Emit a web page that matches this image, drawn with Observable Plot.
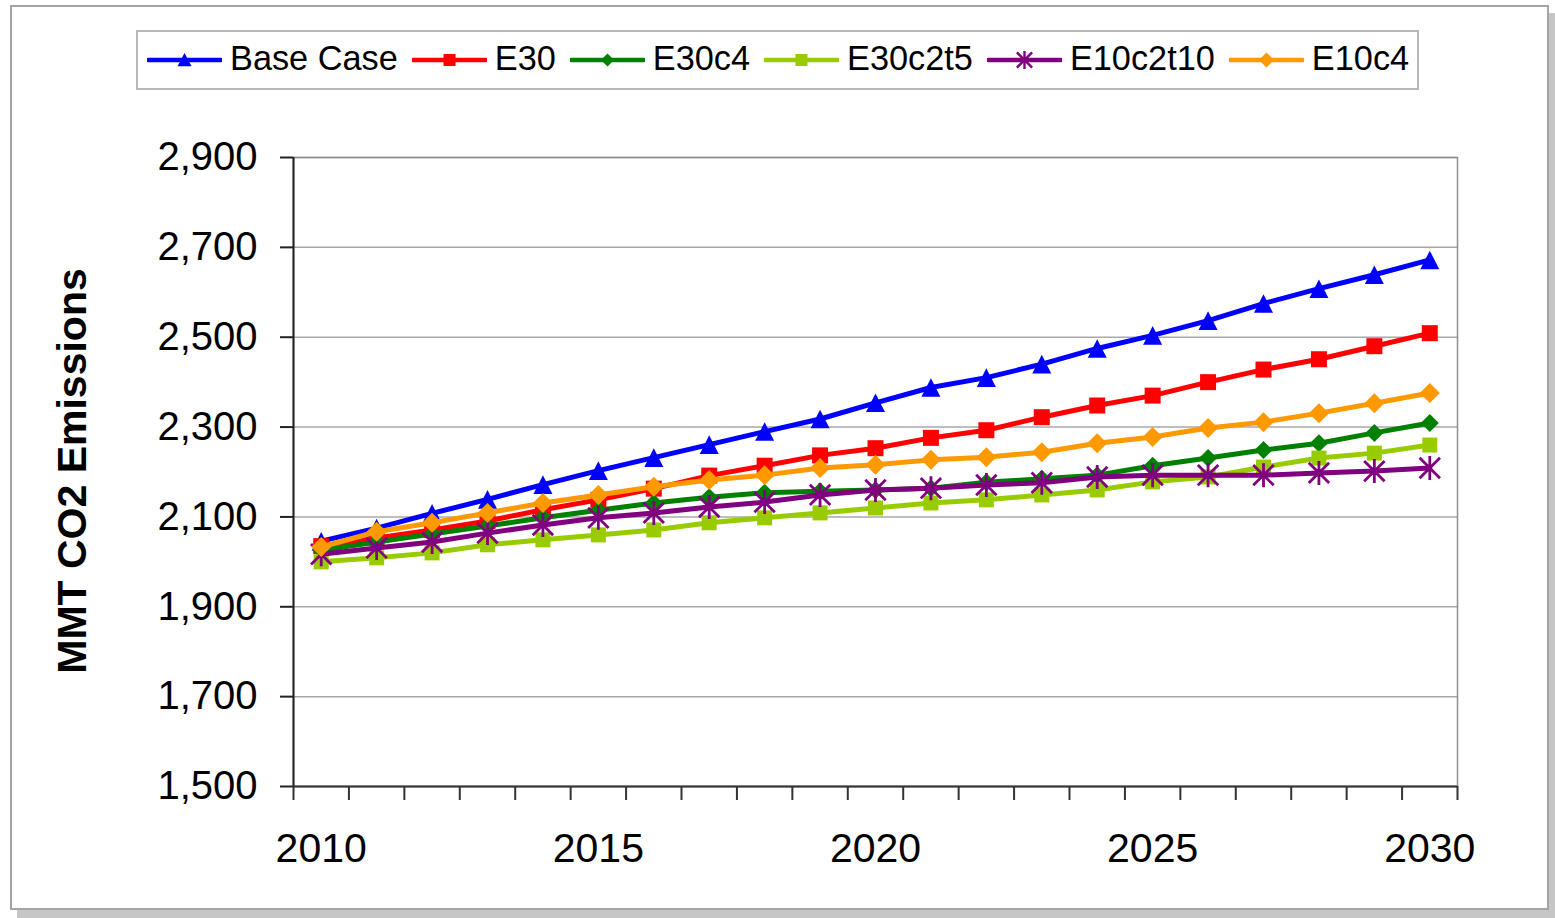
<!DOCTYPE html>
<html>
<head>
<meta charset="utf-8">
<script src="https://cdn.jsdelivr.net/npm/d3@7"></script>
<script src="https://cdn.jsdelivr.net/npm/@observablehq/plot@0.6"></script>
<style>
  body { margin: 0; background: #fff; font-family: "Liberation Sans", Arial, sans-serif; }
  #page { position: relative; width: 1555px; height: 918px; overflow: hidden; background: #fff; }
  #chart { position: absolute; left: 0; top: 0; }
  #box { position: absolute; left: 10px; top: 5px; width: 1539px; height: 905px; box-sizing: border-box;
         border: 2px solid #a4a4a4; box-shadow: 7px 8px 0 #c6c6c6; pointer-events: none; }
  #legend { position: absolute; left: 136px; top: 30px; width: 1283px; height: 60px; box-sizing: border-box;
            border: 2px solid #b8b8b8; background: #fff; display: flex; align-items: center; padding-left: 9px; }
  .item { display: flex; align-items: center; margin-right: 14px; }
  .item svg { display: block; }
  .item span { font-size: 34.3px; color: #000; margin-left: 8px; white-space: nowrap; line-height: 1; position: relative; top: -2px; }
  #ylabel { position: absolute; left: 72px; top: 471px; transform: translate(-50%, -50%) rotate(-90deg);
            font-weight: bold; font-size: 41px; line-height: 1; white-space: nowrap; color: #000; }
</style>
</head>
<body>
<div id="page">
  <div id="chart"></div>
  <div id="legend"></div>
  <div id="ylabel">MMT CO2 Emissions</div>
  <div id="box"></div>
</div>
<script>
// Years on the horizontal axis
const years = [2010, 2011, 2012, 2013, 2014, 2015, 2016, 2017, 2018, 2019, 2020,
               2021, 2022, 2023, 2024, 2025, 2026, 2027, 2028, 2029, 2030];

// Emissions by scenario (MMT CO2)
const baseCase = [2046, 2075, 2108, 2139, 2172, 2203, 2232, 2261, 2290, 2318, 2354,
                  2388, 2410, 2440, 2475, 2504, 2537, 2575, 2608, 2639, 2672];
const e30      = [2035, 2053, 2071, 2091, 2116, 2138, 2163, 2192, 2214, 2237, 2253,
                  2276, 2293, 2322, 2348, 2370, 2400, 2428, 2451, 2480, 2509];
const e30c4    = [2026, 2044, 2062, 2080, 2098, 2115, 2131, 2144, 2154, 2157, 2160,
                  2164, 2177, 2185, 2193, 2214, 2231, 2249, 2264, 2287, 2309];
const e30c2t5  = [2000, 2009, 2020, 2038, 2049, 2060, 2071, 2087, 2098, 2109, 2120,
                  2131, 2138, 2149, 2160, 2178, 2189, 2211, 2231, 2242, 2260];
const e10c2t10 = [2017, 2031, 2044, 2064, 2082, 2098, 2109, 2122, 2133, 2149, 2160,
                  2164, 2171, 2176, 2189, 2193, 2193, 2193, 2198, 2202, 2209];
const e10c4    = [2033, 2067, 2087, 2109, 2131, 2149, 2167, 2182, 2193, 2209, 2216,
                  2227, 2233, 2244, 2264, 2278, 2298, 2311, 2331, 2353, 2376];

const seriesNames = ["Base Case", "E30", "E30c4", "E30c2t5", "E10c2t10", "E10c4"];
const seriesValues = [baseCase, e30, e30c4, e30c2t5, e10c2t10, e10c4];

// Axis ticks
const yTicks = [1500, 1700, 1900, 2100, 2300, 2500, 2700, 2900];
const xLabelYears = [2010, 2015, 2020, 2025, 2030];

// Marker shapes, centred on their bounding box
const rOf = size => Math.sqrt(size / Math.PI);
const triangle = { draw(ctx, size) { const r = rOf(size);
  ctx.moveTo(0, -0.98 * r); ctx.lineTo(r, 0.98 * r); ctx.lineTo(-r, 0.98 * r); ctx.closePath(); } };
const square = { draw(ctx, size) { const r = rOf(size); ctx.rect(-r, -r, 2 * r, 2 * r); } };
const diamond = { draw(ctx, size) { const r = rOf(size);
  ctx.moveTo(0, -r); ctx.lineTo(r, 0); ctx.lineTo(0, r); ctx.lineTo(-r, 0); ctx.closePath(); } };
const star = { draw(ctx, size) { const r = rOf(size), k = r * 0.85;
  ctx.moveTo(0, -r); ctx.lineTo(0, r);
  ctx.moveTo(-k, -k); ctx.lineTo(k, k);
  ctx.moveTo(-k, k); ctx.lineTo(k, -k); } };

const styles = [
  { color: "#0000ff", symbol: triangle, r: 9.5, filled: true,  legendR: 7 },
  { color: "#ff0000", symbol: square,   r: 8,   filled: true,  legendR: 6 },
  { color: "#008000", symbol: diamond,  r: 9,   filled: true,  legendR: 6.5 },
  { color: "#99cc00", symbol: square,   r: 7.5, filled: true,  legendR: 6 },
  { color: "#800080", symbol: star,     r: 12,  filled: false, legendR: 9 },
  { color: "#ff9900", symbol: diamond,  r: 10,  filled: true,  legendR: 7.5 }
];

const xDomain = [years[0] - 0.5, years[years.length - 1] + 0.5];
const categoryEdges = d3.range(years.length + 1).map(i => xDomain[0] + i);

const seriesMarks = seriesNames.flatMap((name, s) => {
  const rows = years.map((year, i) => ({ year, value: seriesValues[s][i], series: name }));
  const st = styles[s];
  return [
    Plot.line(rows, { x: "year", y: "value", stroke: st.color, strokeWidth: 5 }),
    Plot.dot(rows, {
      x: "year", y: "value", symbol: () => st.symbol, r: st.r,
      fill: st.filled ? st.color : "none",
      stroke: st.color, strokeWidth: st.filled ? 0 : 2.8
    })
  ];
});

const chart = Plot.plot({
  width: 1555,
  height: 918,
  marginLeft: 293,
  marginRight: 98,
  marginTop: 157,
  marginBottom: 132,
  style: { fontFamily: "'Liberation Sans', Arial, sans-serif", background: "transparent", color: "#000" },
  x: { type: "linear", domain: xDomain },
  y: { domain: [yTicks[0], yTicks[yTicks.length - 1]] },
  marks: [
    Plot.gridY(yTicks, { stroke: "#a8a8a8", strokeOpacity: 1, strokeWidth: 1.5 }),
    Plot.frame({ stroke: "#8f8f8f", strokeWidth: 1.5 }),
    Plot.ruleX([xDomain[0]], { stroke: "#222", strokeWidth: 2 }),
    Plot.ruleY([yTicks[0]], { stroke: "#333", strokeWidth: 2 }),
    Plot.axisY(yTicks, { tickSize: 13, tickPadding: 23, tickFormat: d3.format(","), fontSize: 40,
                         stroke: "#222", strokeWidth: 2, label: null }),
    Plot.axisX(categoryEdges, { tickSize: 14, tickFormat: () => "", stroke: "#333",
                                strokeWidth: 2, label: null }),
    Plot.axisX(xLabelYears, { tickSize: 0, tickPadding: 46, tickFormat: d => String(d),
                              fontSize: 41, label: null }),
    ...seriesMarks
  ]
});
document.getElementById("chart").appendChild(chart);

// Legend: a line sample with its marker, then the scenario name
function markerSvg(st) {
  const w = 75, h = 24, cx = w / 2, cy = h / 2, r = st.legendR;
  let shape;
  if (st.symbol === triangle) shape = `<polygon points="${cx},${cy - r} ${cx + r},${cy + r * 0.9} ${cx - r},${cy + r * 0.9}" fill="${st.color}"/>`;
  else if (st.symbol === square) shape = `<rect x="${cx - r}" y="${cy - r}" width="${2 * r}" height="${2 * r}" fill="${st.color}"/>`;
  else if (st.symbol === diamond) shape = `<polygon points="${cx},${cy - r} ${cx + r},${cy} ${cx},${cy + r} ${cx - r},${cy}" fill="${st.color}"/>`;
  else {
    const k = r * 0.85;
    shape = `<path d="M${cx},${cy - r}V${cy + r}M${cx - k},${cy - k}L${cx + k},${cy + k}M${cx - k},${cy + k}L${cx + k},${cy - k}" stroke="${st.color}" stroke-width="2.4" fill="none"/>`;
  }
  return `<svg width="${w}" height="${h}"><line x1="1" x2="${w - 1}" y1="${cy}" y2="${cy}" stroke="${st.color}" stroke-width="4.5" stroke-linecap="round"/>${shape}</svg>`;
}
const legend = document.getElementById("legend");
seriesNames.forEach((name, s) => {
  const item = document.createElement("div");
  item.className = "item";
  item.innerHTML = markerSvg(styles[s]) + `<span>${name}</span>`;
  legend.appendChild(item);
});
</script>
</body>
</html>
